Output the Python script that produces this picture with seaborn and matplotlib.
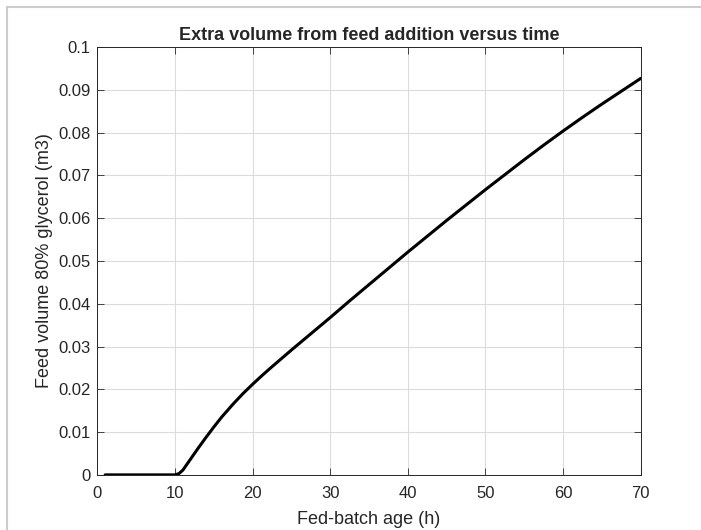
import matplotlib.pyplot as plt
import pandas as pd
import seaborn as sns

# fed-batch age (h) and extra feed volume (m3)
age_h = [1, 4, 7, 10, 10.5, 11, 12, 13, 14, 15, 16, 17.5, 18.75, 20, 21.25, 22.5, 25,
         27.5, 30, 32.5, 35, 37.5, 40, 42.5, 45, 47.5, 50, 52.5, 55, 57.5, 60, 62.5,
         65, 67.5, 70]
feed_m3 = [0, 0, 0, 0, 0.0003, 0.0011, 0.0037, 0.0063, 0.0088, 0.0112, 0.0135, 0.0166,
           0.0190, 0.0212, 0.0233, 0.0253, 0.0292, 0.0330, 0.0368, 0.0407, 0.0445,
           0.0483, 0.0521, 0.0558, 0.0595, 0.0631, 0.0667, 0.0702, 0.0737, 0.0771,
           0.0804, 0.0836, 0.0867, 0.0897, 0.0927]

x_ticks = [0, 10, 20, 30, 40, 50, 60, 70]
y_ticks = [0, 0.01, 0.02, 0.03, 0.04, 0.05, 0.06, 0.07, 0.08, 0.09, 0.1]
y_labels = ['0', '0.01', '0.02', '0.03', '0.04', '0.05', '0.06', '0.07', '0.08', '0.09', '0.1']

df = pd.DataFrame({'age': age_h, 'feed': feed_m3})

sns.set_style('ticks')
plt.rcParams['font.family'] = ['Liberation Sans', 'DejaVu Sans']

fig = plt.figure(figsize=(7.01, 5.30), dpi=100)
ax = fig.add_axes([0.139, 0.104, 0.775, 0.807])

sns.lineplot(data=df, x='age', y='feed', color='black', linewidth=2.2, ax=ax)

ax.set_xlim(0, 70)
ax.set_ylim(0, 0.1)
ax.set_xticks(x_ticks)
ax.set_yticks(y_ticks)
ax.set_yticklabels(y_labels)
ax.grid(True, color='#dcdcdc', linewidth=0.8)
ax.tick_params(direction='in', top=True, right=True, labelsize=12,
               colors='#262626', length=5, width=0.6)
ax.tick_params(axis='x', pad=8)
ax.tick_params(axis='y', pad=5)
for s in ax.spines.values():
    s.set_visible(True)
    s.set_color('#262626')
    s.set_linewidth(0.7)

ax.set_xlabel('Fed-batch age (h)', fontsize=13, color='#262626', labelpad=7)
ax.set_ylabel('Feed volume 80% glycerol (m3)', fontsize=13, color='#262626', labelpad=4)
ax.set_title('Extra volume from feed addition versus time', fontsize=13,
             fontweight='bold', pad=5)

# light frame round the picture (right and bottom edges run off the image)
fig.patches.append(plt.Rectangle((0.01, -0.1), 1.1, 1.087, transform=fig.transFigure,
                                 fill=False, edgecolor='#cccccc', linewidth=1.5))

fig.savefig('out.png', dpi=100)
